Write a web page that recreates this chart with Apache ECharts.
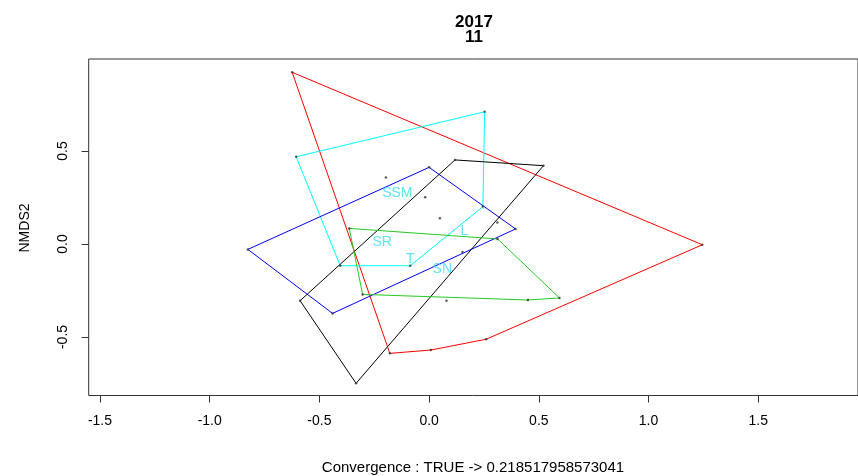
<!DOCTYPE html>
<html>
<head>
<meta charset="utf-8">
<script src="https://cdn.jsdelivr.net/npm/echarts@6/dist/echarts.min.js"></script>
<style>
html,body{margin:0;padding:0;background:#fff;}
#chart{width:858px;height:476px;}
</style>
</head>
<body>
<div id="chart"></div>
<script>
const titleLines = ["2017", "11"];
const xLabel = "Convergence : TRUE -> 0.218517958573041";
const yLabel = "NMDS2";
const xTicks = [-1.5, -1.0, -0.5, 0.0, 0.5, 1.0, 1.5];
const yTicks = [-0.5, 0.0, 0.5];

const redHull = [[-0.624, 0.923], [1.245, -0.004], [0.260, -0.512], [0.008, -0.570], [-0.179, -0.588]];
const cyanHull = [[0.253, 0.711], [-0.606, 0.469], [-0.405, -0.117], [-0.086, -0.117], [0.245, 0.201]];
const blueHull = [[0.000, 0.412], [0.394, 0.081], [-0.440, -0.373], [-0.826, -0.029]];
const blackHull = [[0.118, 0.452], [0.521, 0.421], [-0.333, -0.749], [-0.588, -0.305]];
const greenHull = [[-0.364, 0.084], [0.312, 0.027], [0.594, -0.290], [0.450, -0.301], [-0.303, -0.271]];
const innerSites = [[-0.197, 0.358], [-0.018, 0.251], [0.049, 0.138], [0.079, -0.305], [0.311, 0.115], [0.152, -0.043]];

const groupNames = ["SSM", "SR", "T", "L", "SN"];
const groupLabelX = [-0.145, -0.214, -0.086, 0.161, 0.060];
const groupLabelY = [0.274, 0.010, -0.080, 0.070, -0.136];

const hulls = [
  {data: redHull, color: '#ff0000'},
  {data: cyanHull, color: '#00ffff'},
  {data: blueHull, color: '#0000ff'},
  {data: blackHull, color: '#000000'},
  {data: greenHull, color: '#22cc22'}
];

const allSites = [].concat(redHull, cyanHull, blueHull, blackHull, greenHull, innerSites);

const series = hulls.map(h => ({
  type: 'line',
  data: h.data.concat([h.data[0]]),
  showSymbol: false,
  symbol: 'none',
  lineStyle: {color: h.color, width: 1},
  silent: true,
  z: 2
}));
series.push({
  type: 'scatter',
  data: allSites,
  symbol: 'circle',
  symbolSize: 2.5,
  itemStyle: {color: '#333'},
  z: 3
});
series.push({
  type: 'scatter',
  data: groupNames.map((n, i) => ({value: [groupLabelX[i], groupLabelY[i]], name: n})),
  symbolSize: 0,
  label: {
    show: true, position: 'inside', formatter: p => p.name,
    color: '#33e0ee', fontSize: 14, fontFamily: 'Liberation Sans, Arial, sans-serif'
  },
  z: 4
});

const chart = echarts.init(document.getElementById('chart'), null, {renderer: 'canvas'});
chart.setOption({
  animation: false,
  backgroundColor: '#fff',
  grid: {left: 88.7, top: 59, right: -2, bottom: 80.5, show: true, borderColor: '#333', borderWidth: 1, backgroundColor: 'transparent'},
  xAxis: {
    type: 'value', min: -1.5514, max: 1.9545,
    splitLine: {show: false},
    axisLine: {show: false, onZero: false},
    axisTick: {show: true, inside: false, length: 7, lineStyle: {color: '#333'}, customValues: xTicks},
    axisLabel: {show: true, margin: 19, color: '#000', fontSize: 14, fontFamily: 'Liberation Sans, Arial, sans-serif',
      customValues: xTicks, formatter: v => v.toFixed(1)}
  },
  yAxis: {
    type: 'value', min: -0.8145, max: 0.9946,
    splitLine: {show: false},
    axisLine: {show: false, onZero: false},
    axisTick: {show: true, inside: false, length: 7, lineStyle: {color: '#333'}, customValues: yTicks},
    axisLabel: {show: true, margin: 19, rotate: 90, color: '#000', fontSize: 14, fontFamily: 'Liberation Sans, Arial, sans-serif',
      customValues: yTicks, formatter: v => v.toFixed(1)}
  },
  graphic: [
    {type: 'text', x: 474, y: 22, style: {text: titleLines[0], textAlign: 'center', textVerticalAlign: 'middle', align: 'center', verticalAlign: 'middle', font: 'bold 17px Liberation Sans, Arial, sans-serif', fill: '#000'}},
    {type: 'text', x: 474, y: 37.5, style: {text: titleLines[1], textAlign: 'center', textVerticalAlign: 'middle', align: 'center', verticalAlign: 'middle', font: 'bold 17px Liberation Sans, Arial, sans-serif', fill: '#000'}},
    {type: 'text', x: 473, y: 468, style: {text: xLabel, textAlign: 'center', textVerticalAlign: 'middle', align: 'center', verticalAlign: 'middle', font: '15px Liberation Sans, Arial, sans-serif', fill: '#000'}},
    {type: 'text', x: 25, y: 228, rotation: Math.PI / 2, style: {text: yLabel, textAlign: 'center', textVerticalAlign: 'middle', align: 'center', verticalAlign: 'middle', font: '14px Liberation Sans, Arial, sans-serif', fill: '#000'}}
  ],
  series: series
});
</script>
</body>
</html>
